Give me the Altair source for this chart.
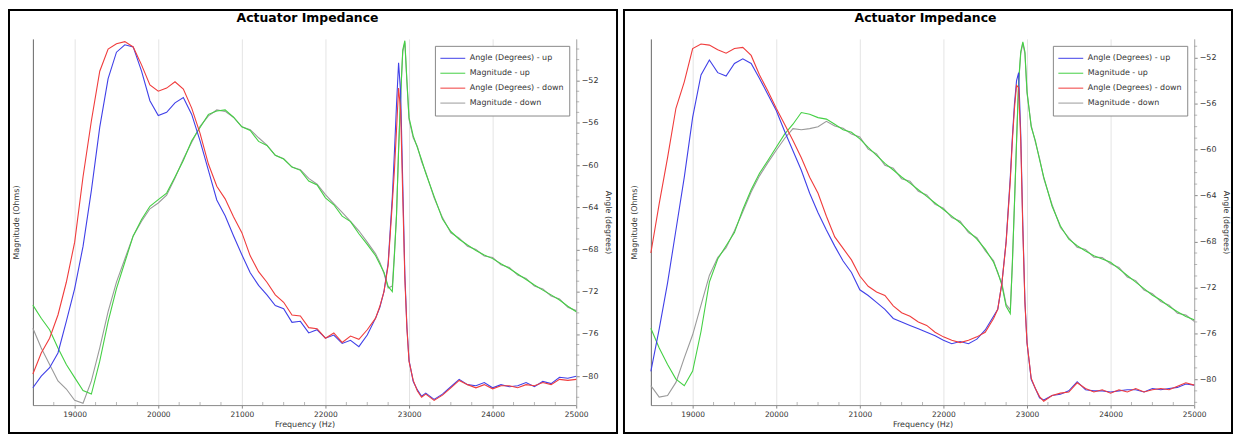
import altair as alt
import pandas as pd

FONT = "DejaVu Sans"

FREQ = [18500, 18600, 18700, 18800, 18900, 19000, 19100, 19200, 19300, 19400,
        19500, 19600, 19700, 19800, 19900, 20000, 20100, 20200, 20300, 20400,
        20500, 20600, 20700, 20800, 20900, 21000, 21100, 21200, 21300, 21400,
        21500, 21600, 21700, 21800, 21900, 22000, 22100, 22200, 22300, 22400,
        22500, 22600,
        22650, 22700, 22750, 22800, 22825, 22850, 22875, 22900, 22925, 22950,
        22975, 23000, 23050, 23100, 23150, 23200,
        23300, 23400, 23500, 23600, 23700, 23800, 23900, 24000, 24100, 24200,
        24300, 24400, 24500, 24600, 24700, 24800, 24900, 25000]

SERIES = ["Angle (Degrees) - up", "Magnitude - up", "Angle (Degrees) - down", "Magnitude - down"]
COLORS = ["#4040e8", "#44d044", "#f03c3c", "#9a9a9a"]
TITLE = "Actuator Impedance"

# ---------------- left panel ----------------
L_ANG_UP = [-81.1, -80.0, -79.2, -77.8, -74.8, -71.7, -67.7, -62.4, -56.4, -51.8,
            -49.3, -48.6, -48.8, -51.1, -53.9, -55.3, -55.0, -54.1, -53.6, -55.2,
            -57.7, -60.5, -63.3, -64.8, -66.7, -68.5, -70.2, -71.4, -72.3, -73.3,
            -73.6, -74.9, -74.8, -75.9, -75.6, -76.4, -76.1, -76.9, -76.6, -77.2,
            -76.1, -74.5,
            -73.5, -72.0, -69.3, -63.0, -58.8, -54.3, -50.3, -53.2, -61.8, -70.4,
            -75.4, -78.5, -80.5, -81.3, -81.9, -81.6,
            -82.2, -81.7, -81.0, -80.3, -80.8, -80.9, -80.6, -81.1, -80.8, -81.0,
            -80.9, -80.6, -81.0, -80.5, -80.7, -80.1, -80.2, -80.0]
L_ANG_DOWN = [-79.8, -77.8, -76.4, -74.2, -71.1, -67.3, -61.1, -55.8, -51.1, -49.0,
              -48.5, -48.3, -48.8, -50.5, -52.4, -53.0, -52.7, -52.1, -52.8, -54.6,
              -57.0, -59.9, -62.0, -63.2, -64.9, -66.4, -68.6, -70.1, -71.1, -72.3,
              -73.0, -74.2, -74.3, -75.4, -75.5, -76.4, -75.9, -76.8, -76.2, -76.5,
              -75.6, -74.5,
              -73.4, -72.0, -69.5, -63.6, -60.5, -56.7, -52.7, -54.9, -63.0, -70.8,
              -75.5, -78.6, -80.4, -81.4, -82.0, -81.7,
              -82.3, -81.8, -81.1, -80.4, -80.8, -81.1, -80.8, -81.2, -80.9, -80.9,
              -81.1, -80.8, -80.9, -80.6, -80.8, -80.3, -80.4, -80.3]
L_MAG_UP = [27.3, 23.7, 20.6, 15.6, 11.1, 7.5, 4.0, 3.0, 12.0, 22.8,
            31.8, 39.0, 46.2, 50.7, 54.3, 56.1, 57.9, 62.3, 66.8, 72.2,
            75.8, 79.4, 80.3, 80.6, 78.6, 76.0, 75.0, 72.0, 70.9, 68.2,
            67.2, 65.0, 64.1, 61.2, 60.1, 56.6, 54.7, 51.6, 50.1, 46.8,
            43.9, 40.8,
            38.5, 36.3, 32.4, 31.0, 40.8, 51.6, 69.5, 84.5, 97.0, 99.5,
            88.4, 78.5, 73.5, 70.3, 67.0, 63.3,
            57.0, 50.8, 47.4, 45.3, 43.7, 42.2, 41.0, 40.0, 38.6, 37.3,
            35.8, 34.3, 32.8, 31.4, 30.1, 28.7, 27.0, 25.5]
L_MAG_DOWN = [21.0, 15.6, 11.1, 6.6, 4.4, 1.3, 0.5, 6.6, 15.6, 25.5,
              33.6, 39.9, 46.2, 50.2, 53.6, 55.2, 57.3, 62.0, 67.2, 71.8,
              76.1, 79.0, 80.6, 80.2, 78.6, 76.0, 75.2, 73.0, 71.0, 68.2,
              67.3, 65.0, 64.3, 61.9, 60.3, 57.5, 55.0, 52.6, 50.2, 47.6,
              44.5, 41.3,
              39.0, 36.0, 32.0, 32.5, 41.5, 52.0, 70.0, 85.0, 96.5, 99.0,
              88.0, 78.0, 73.0, 70.6, 66.5, 63.6,
              56.6, 51.2, 47.0, 45.6, 43.4, 42.5, 40.7, 40.3, 38.3, 37.6,
              35.5, 34.6, 32.5, 31.7, 29.8, 29.0, 26.7, 25.8]

# ---------------- right panel ----------------
R_ANG_UP = [-79.3, -75.6, -71.6, -67.0, -62.4, -57.2, -53.5, -52.2, -53.3, -53.6,
            -52.5, -52.1, -52.5, -53.8, -55.2, -56.6, -58.4, -60.1, -61.8, -63.8,
            -65.5, -67.0, -68.4, -69.7, -70.7, -72.2, -72.7, -73.3, -73.9, -74.7,
            -75.0, -75.3, -75.6, -75.9, -76.2, -76.6, -76.9, -76.7, -76.9, -76.5,
            -75.7, -74.5,
            -73.9, -71.6, -68.0, -62.4, -58.9, -56.0, -54.0, -53.3, -58.6, -66.6,
            -73.2, -76.8, -80.0, -80.8, -81.6, -81.8,
            -81.4, -81.3, -81.0, -80.2, -80.9, -81.0, -81.0, -81.1, -81.0, -80.9,
            -80.9, -81.1, -80.8, -80.9, -80.8, -80.7, -80.4, -80.5]
R_ANG_DOWN = [-69.0, -64.7, -60.7, -56.4, -54.1, -51.2, -50.8, -50.9, -51.3, -51.6,
              -51.2, -51.1, -51.8, -53.5, -54.9, -56.4, -57.8, -59.2, -60.7, -62.4,
              -63.8, -65.8, -67.6, -68.6, -69.6, -71.0, -71.9, -72.4, -72.7, -73.6,
              -74.2, -74.5, -75.0, -75.3, -75.9, -76.3, -76.6, -76.8, -76.6, -76.3,
              -75.9, -74.7,
              -73.9, -71.6, -68.1, -62.7, -59.2, -56.4, -54.4, -54.6, -59.2, -67.0,
              -73.3, -76.8, -79.9, -80.8, -81.5, -81.9,
              -81.4, -81.2, -81.1, -80.3, -80.8, -81.1, -80.9, -81.2, -80.9, -81.1,
              -80.8, -81.1, -80.9, -80.8, -80.9, -80.6, -80.3, -80.5]
R_MAG_UP = [21.0, 15.6, 11.1, 7.1, 5.3, 9.3, 20.1, 33.6, 39.9, 43.5,
            47.1, 53.4, 58.8, 63.3, 66.8, 70.4, 74.0, 76.7, 79.9, 79.4,
            78.5, 78.1, 76.7, 75.2, 74.5, 72.7, 70.4, 68.2, 66.0, 64.2,
            62.3, 60.6, 58.8, 57.0, 55.2, 53.4, 51.6, 49.8, 47.5, 45.3,
            42.6, 39.0,
            36.3, 32.7, 27.0, 25.0, 39.0, 55.2, 72.2, 88.4, 96.5, 99.2,
            96.5, 85.7, 76.0, 72.2, 67.0, 62.3,
            54.3, 48.9, 45.3, 43.5, 42.1, 40.8, 39.9, 39.0, 37.2, 35.4,
            33.6, 31.8, 30.0, 28.7, 26.9, 25.5, 24.2, 23.3]
R_MAG_DOWN = [5.3, 2.2, 2.6, 6.2, 12.9, 19.2, 27.3, 35.4, 40.3, 43.0,
              47.6, 52.8, 58.2, 62.6, 66.2, 69.6, 72.8, 75.5, 75.2, 75.5,
              76.0, 77.5, 76.2, 75.6, 74.0, 73.2, 69.9, 68.6, 65.5, 64.7,
              61.8, 61.1, 58.4, 57.4, 54.8, 53.8, 51.2, 50.2, 47.1, 45.7,
              42.2, 39.4,
              36.0, 33.2, 27.5, 26.0, 38.5, 54.8, 71.8, 88.0, 96.0, 98.8,
              96.0, 85.2, 76.4, 71.8, 67.4, 61.9,
              54.7, 48.5, 45.7, 43.1, 42.5, 40.4, 40.3, 38.6, 37.6, 35.0,
              34.0, 31.4, 30.4, 28.3, 27.3, 25.1, 24.6, 22.9]

X_TICKS = [19000, 20000, 21000, 22000, 23000, 24000, 25000]
X_MINOR = [18750, 19250, 19500, 19750, 20250, 20500, 20750, 21250, 21500, 21750,
           22250, 22500, 22750, 23250, 23500, 23750, 24250, 24500, 24750]
Y_TICKS = [-80, -76, -72, -68, -64, -60, -56, -52]
Y_MINOR = [-82, -81, -79, -78, -77, -75, -74, -73, -71, -70, -69, -67, -66, -65,
           -63, -62, -61, -59, -58, -57, -55, -54, -53, -51, -50, -49]

L_DOMAIN = [-82.74, -48.04]
R_DOMAIN = [-82.24, -50.36]

W, H = 546, 368

for s in (L_ANG_UP, L_ANG_DOWN, L_MAG_UP, L_MAG_DOWN, R_ANG_UP, R_ANG_DOWN, R_MAG_UP, R_MAG_DOWN):
    assert len(s) == len(FREQ), len(s)


def panel(ang_up, mag_up, ang_down, mag_down, dom, fx0, fx1):
    n = len(FREQ)
    ang_df = pd.DataFrame({"freq": FREQ * 2, "value": ang_up + ang_down,
                           "series": [SERIES[0]] * n + [SERIES[2]] * n})
    mag_df = pd.DataFrame({"freq": FREQ * 2, "value": mag_down + mag_up,
                           "series": [SERIES[3]] * n + [SERIES[1]] * n})

    xenc = alt.X("freq:Q", scale=alt.Scale(domain=[18500, 25000], nice=False, zero=False),
                 axis=alt.Axis(values=X_TICKS, format="d", title="Frequency (Hz)", grid=True,
                               gridColor="#e4e4e4", tickSize=3, tickColor="#888",
                               domainColor="#888", labelFont=FONT, labelFontSize=7.5,
                               labelColor="#333", labelPadding=2, labelFlush=False,
                               titleFont=FONT, titleFontSize=8, titleFontWeight="normal",
                               titleColor="#333", titlePadding=3))
    color = alt.Color("series:N", scale=alt.Scale(domain=SERIES, range=COLORS),
                      legend=alt.Legend(title=None, orient="top-right", offset=7,
                                        fillColor="white", strokeColor="#888", padding=5,
                                        symbolType="stroke", symbolSize=625,
                                        symbolStrokeWidth=1, labelFont=FONT,
                                        labelFontSize=8, labelColor="#333",
                                        clipHeight=15, rowPadding=0, labelOffset=4,
                                        cornerRadius=0))

    mag = alt.Chart(mag_df).mark_line(strokeWidth=1.1).encode(
        x=xenc,
        y=alt.Y("value:Q", scale=alt.Scale(domain=[0, 100], nice=False, zero=False),
                axis=alt.Axis(orient="left", title="Magnitude (Ohms)", labels=False,
                              ticks=False, grid=False, domainColor="#666",
                              titleFont=FONT, titleFontSize=8, titleFontWeight="normal",
                              titleColor="#333", titlePadding=12)),
        color=color,
    )
    ang = alt.Chart(ang_df).mark_line(strokeWidth=1.1).encode(
        x=xenc,
        y=alt.Y("value:Q", scale=alt.Scale(domain=dom, nice=False, zero=False),
                axis=alt.Axis(orient="right", values=Y_TICKS, title="Angle (degrees)",
                              grid=False, tickSize=3, tickColor="#888", domainColor="#aaa",
                              labelFont=FONT, labelFontSize=8, labelColor="#333",
                              labelPadding=2, labelFlush=False,
                              titleFont=FONT, titleFontSize=8, titleFontWeight="normal",
                              titleColor="#333", titlePadding=6)),
        color=color,
    )
    ymin_vals = [v for v in Y_MINOR if dom[0] <= v <= dom[1]]
    ymin = alt.Chart(pd.DataFrame({"deg": ymin_vals})).mark_tick(
        color="#999", thickness=1, size=3).encode(
        y=alt.Y("deg:Q", scale=alt.Scale(domain=dom, nice=False, zero=False), axis=None),
        x=alt.value(W + 1.5))
    xmin = alt.Chart(pd.DataFrame({"freq": X_MINOR})).mark_tick(
        color="#999", thickness=1, size=3).encode(x=xenc, y=alt.value(H - 1.5))
    one = alt.Data(values=[{"k": 1}])
    frame = alt.Chart(one).mark_rect(
        filled=False, stroke="black", strokeWidth=2).encode(
        x=alt.value(fx0), x2=alt.value(fx1), y=alt.value(-29), y2=alt.value(396))
    title = alt.Chart(one).mark_text(
        font=FONT, fontSize=12.5, fontWeight="bold", color="black",
        align="center", baseline="middle").encode(
        x=alt.value(W / 2 + 3), y=alt.value(-21), text=alt.value(TITLE))

    return alt.layer(mag, ang, ymin, xmin, frame, title).resolve_scale(
        y="independent").properties(width=W, height=H)


left = panel(L_ANG_UP, L_MAG_UP, L_ANG_DOWN, L_MAG_DOWN, L_DOMAIN, -24, 587)
right = panel(R_ANG_UP, R_MAG_UP, R_ANG_DOWN, R_MAG_DOWN, R_DOMAIN, -27, 584)

chart = alt.hconcat(left, right, spacing=5).resolve_scale(color="independent").resolve_legend(
    color="independent").properties(padding=0, background="white").configure_view(stroke=None)

chart.save("out.html", embed_options={"renderer": "svg", "actions": False})
